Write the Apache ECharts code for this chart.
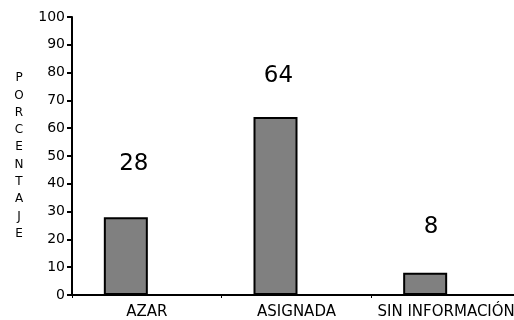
<!DOCTYPE html>
<html>
<head>
<meta charset="utf-8">
<script src="https://cdn.jsdelivr.net/npm/echarts@6/dist/echarts.min.js"></script>
<style>html,body{margin:0;padding:0;background:#fff;overflow:hidden;width:514px;height:320px;}#c{width:521px;height:320px;}</style>
</head>
<body>
<div id="c"></div>
<script>
const categories = ['AZAR', 'ASIGNADA', 'SIN INFORMACIÓN'];
const values = [28, 64, 8];
const yTicks = [0, 10, 20, 30, 40, 50, 60, 70, 80, 90, 100];
const axisTitle = 'PORCENTAJE';
// label placement tweaks (style only)
const labelNudge = [[8, -42], [3, -30], [6, -34]];

const chart = echarts.init(document.getElementById('c'), null, {renderer: 'canvas'});
const FONT = 'DejaVu Sans';
chart.setOption({
  animation: false,
  backgroundColor: '#ffffff',
  grid: {left: 72, right: 0, top: 17, bottom: 25, containLabel: false},
  xAxis: {
    type: 'category',
    data: categories,
    axisLine: {lineStyle: {color: '#000', width: 2}},
    axisTick: {show: true, length: 3, lineStyle: {color: '#000', width: 1}},
    axisLabel: {color: '#000', fontFamily: FONT, fontSize: 15, margin: 10, interval: 0}
  },
  yAxis: {
    type: 'value',
    min: yTicks[0],
    max: yTicks[yTicks.length - 1],
    interval: 10,
    name: axisTitle.split('').join('\n'),
    nameLocation: 'middle',
    nameRotate: 0,
    nameGap: 53,
    nameTextStyle: {color: '#000', fontFamily: FONT, fontSize: 12, lineHeight: 17.3, align: 'center', verticalAlign: 'middle'},
    splitLine: {show: false},
    axisLine: {show: true, lineStyle: {color: '#000', width: 2}},
    axisTick: {show: true, length: 5, lineStyle: {color: '#000', width: 2}},
    axisLabel: {color: '#000', fontFamily: FONT, fontSize: 14, margin: 7}
  },
  series: [
    {
      type: 'bar',
      barWidth: 44,
      barGap: '0%',
      data: values.map((v, i) => ({
        value: v,
        label: {offset: labelNudge[i]}
      })),
      itemStyle: {color: '#808080', borderColor: '#000', borderWidth: 2},
      label: {show: true, position: 'top', distance: 0, color: '#000', fontFamily: FONT, fontSize: 23},
      z: 3
    },
    {
      type: 'bar',
      barWidth: 42,
      data: categories.map(() => null),
      silent: true
    }
  ]
});
</script>
</body>
</html>
